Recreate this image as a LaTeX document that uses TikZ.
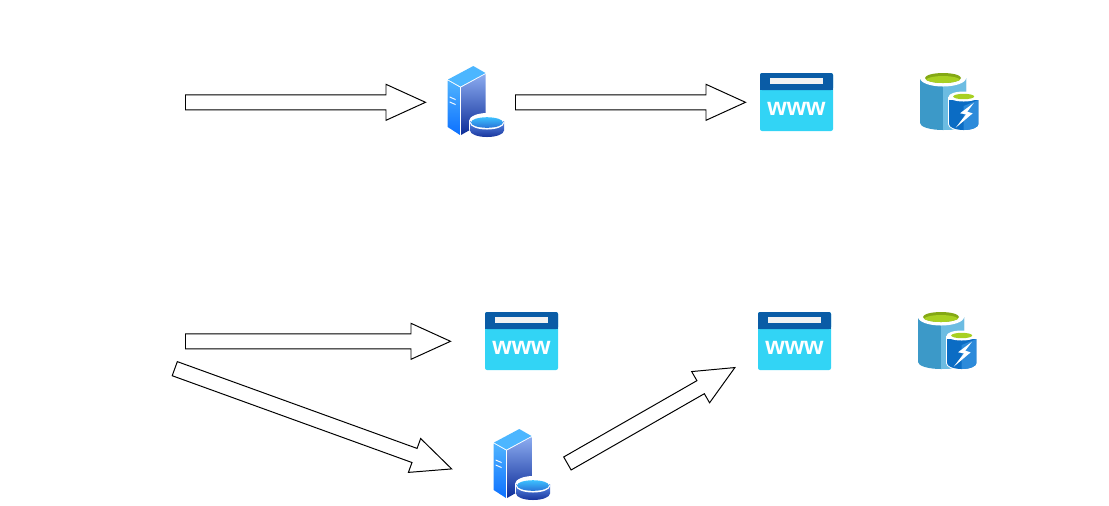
\documentclass[tikz,border=0pt]{standalone}
\usepackage{fontspec}
\setsansfont{Liberation Sans}
\usetikzlibrary{shapes.arrows}
\definecolor{cwwwtop}{HTML}{0A5CA6}
\definecolor{cwwwbody}{HTML}{32D4F5}
\definecolor{cbar}{HTML}{F2F2F2}
\definecolor{cgreen}{HTML}{A8D022}
\definecolor{colive}{HTML}{84A814}
\definecolor{cdbleft}{HTML}{3C99C8}
\definecolor{cdbright}{HTML}{6CBCE2}
\definecolor{cfastleft}{HTML}{0B6CC4}
\definecolor{cfastright}{HTML}{2C8ADA}
\definecolor{csrvtop}{HTML}{4CB6FF}
\definecolor{csrvleftA}{HTML}{50B4FF}
\definecolor{csrvleftB}{HTML}{0C70FF}
\definecolor{csrvrightA}{HTML}{8CACF0}
\definecolor{csrvrightB}{HTML}{0C2C98}
\definecolor{cdiskA}{HTML}{3CC0FF}
\definecolor{cdiskB}{HTML}{2A74D8}
\definecolor{cdiskC}{HTML}{5C8CE8}
\definecolor{cdiskD}{HTML}{18349C}
\tikzset{
  every picture/.style={font=\sffamily, line width=0.28pt},
  blockarrow/.style={shape=single arrow, draw=black, fill=white, anchor=tail, inner sep=0.07cm,
    single arrow head extend=0.105cm, single arrow tip angle=49, line width=0.28pt},
  wwwlabel/.style={font=\sffamily\bfseries\fontsize{7.1}{7.1}\selectfont, text=white, inner sep=0pt},
  pics/server/.style={code={
    \shade[top color=csrvleftA, bottom color=csrvleftB] (17.7,25.5) -- (30,32.5) -- (30,80) -- (17.7,72) -- cycle;
    \fill[csrvtop] (18,24.5) -- (43.3,11) -- (55.5,18) -- (30.5,31.5) -- cycle;
    \shade[top color=csrvrightA, bottom color=csrvrightB] (31,32.5) -- (55.7,19) -- (55.7,66) -- (31,80) -- cycle;
    \fill[white] (19.7,41.5) -- (25.5,44) -- (25.5,45) -- (19.7,42.5) -- cycle;
    \fill[white] (19.7,46.5) -- (25.5,49) -- (25.5,50) -- (19.7,47.5) -- cycle;
    \fill[white] (39,66) -- (39,74) arc[start angle=180, end angle=0, x radius=18, y radius=7.5] -- (75,66)
      arc[start angle=0, end angle=-180, x radius=18, y radius=8] -- cycle;
    \shade[top color=cdiskC, bottom color=cdiskD] (40,66) -- (40,75.5)
      arc[start angle=180, end angle=0, x radius=17, y radius=6.5] -- (74,66) -- cycle;
    \fill[white] (57,68) ellipse[x radius=17, y radius=6.5];
    \shade[top color=cdiskA, bottom color=cdiskB] (57,67.5) ellipse[x radius=16, y radius=5.3];
  }},
  pics/wwwicon/.style={code={
    \fill[cwwwbody, rounded corners=0.02cm] (10,13) rectangle (83,71);
    \fill[cwwwtop, rounded corners=0.02cm] (10,13) rectangle (83,30);
    \fill[cwwwtop] (10,24) rectangle (83,30);
    \fill[cbar] (20,17.7) rectangle (72.7,24);
    \node[wwwlabel] (-txt) at (46.5,49) {www};
  }},
  pics/storage/.style={code={
    \fill[cdbleft] (10,18) -- (10,63) arc[start angle=180, end angle=0, x radius=23, y radius=7] -- (56,18) -- cycle;
    \fill[cdbright] (33,26) -- (33,70) arc[start angle=90, end angle=0, x radius=23, y radius=7] -- (56,18) -- cycle;
    \fill[white] (33,18) ellipse[x radius=23, y radius=8.5];
    \fill[colive] (33,18) ellipse[x radius=18, y radius=5];
    \begin{scope}
      \clip (33,18) ellipse[x radius=18, y radius=5];
      \fill[cgreen] (33,21) ellipse[x radius=18, y radius=5];
    \end{scope}
    \fill[white] (38,37) -- (38,64) arc[start angle=180, end angle=0, x radius=15.5, y radius=7] -- (69,37) -- cycle;
    \fill[cfastleft] (39,40) -- (39,64) arc[start angle=180, end angle=0, x radius=14.7, y radius=6] -- (68.4,40) -- cycle;
    \fill[cfastright] (53.7,46) -- (53.7,70) arc[start angle=90, end angle=0, x radius=14.7, y radius=6] -- (68.4,40) -- cycle;
    \fill[white] (53.7,36.5) ellipse[x radius=15, y radius=5];
    \fill[cgreen] (53.7,36.5) ellipse[x radius=10.5, y radius=2.7];
    \fill[white] (64,42.7) -- (50,53.3) -- (56,54.3) -- (45.7,67.7) -- (62.7,53.3) -- (57.3,51.7) -- cycle;
  }},
}
\begin{document}
\begin{tikzpicture}[x=0.01cm, y=-0.01cm]
  \useasboundingbox (0,0) rectangle (1109,505);
  \foreach \x/\y/\l/\a [count=\i] in {185/102.3/240/0, 515/102.3/230/0, 185/341.3/265/0, 174.3/368.5/294.5/-19.9, 567/463.7/193/29.8} {
    \node[blockarrow, minimum height=\l*0.01cm, rotate=\a] (arrow\i) at (\x,\y) {};
  }
  \pic (srvtop) at (430,55) {server};
  \pic (webtop) at (750,60) {wwwicon};
  \pic (dbtop) at (910,60) {storage};
  \pic (webmid) at (475,299) {wwwicon};
  \pic (webright) at (748,299) {wwwicon};
  \pic (dbbot) at (908,299) {storage};
  \pic (srvbot) at (476,418) {server};
\end{tikzpicture}
\end{document}
